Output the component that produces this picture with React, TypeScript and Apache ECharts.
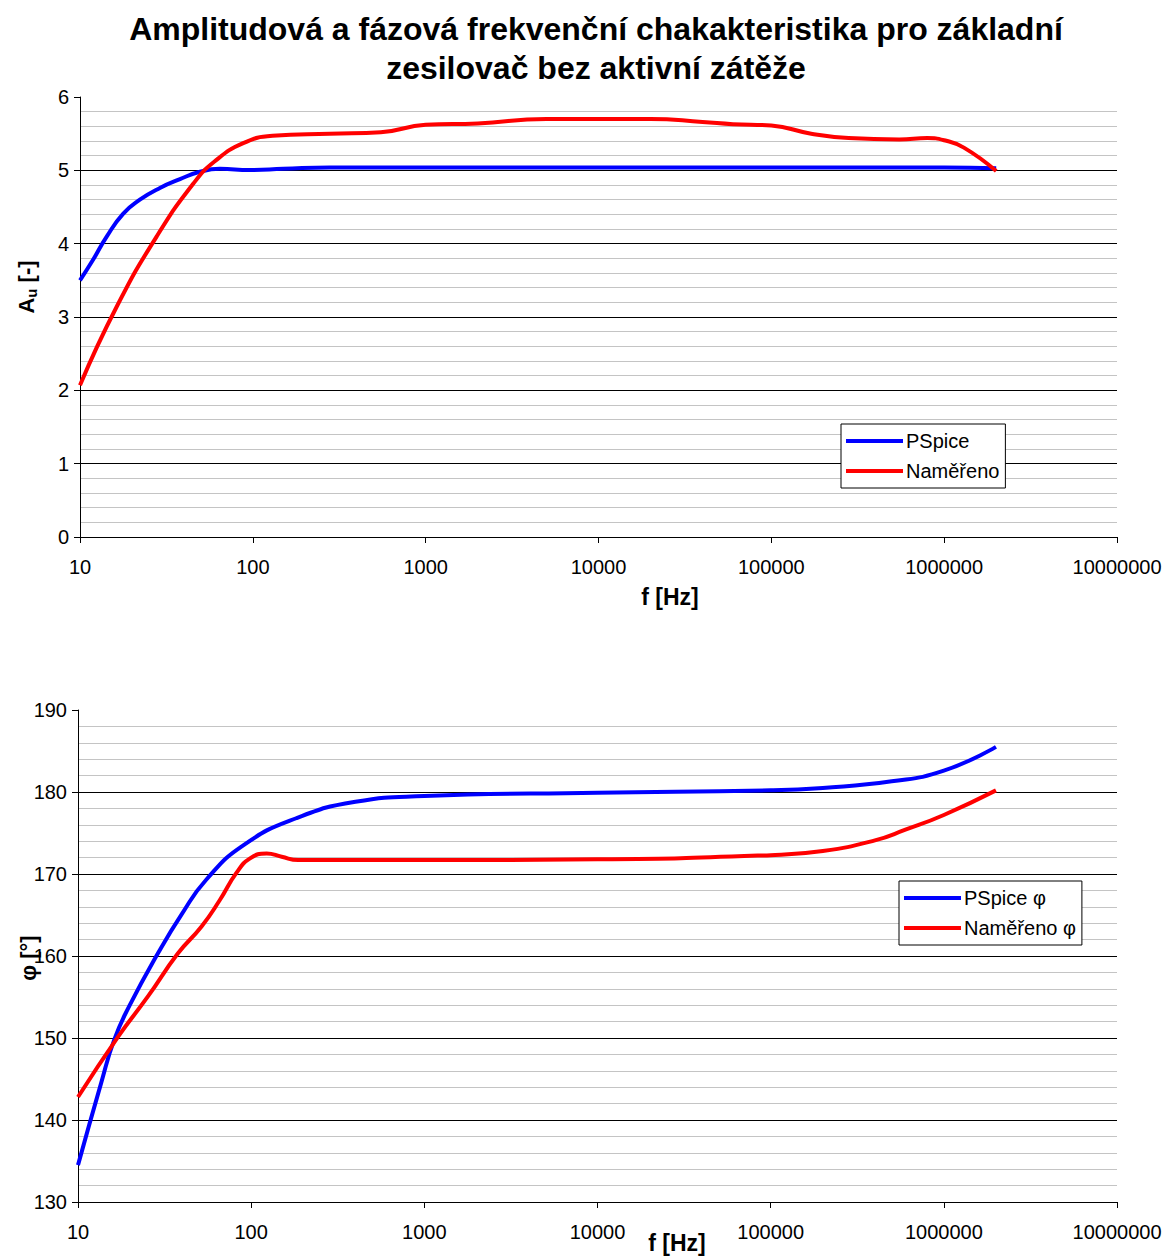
import React, { useEffect, useRef } from "react";
import * as echarts from "echarts";

const FONT = "'Liberation Sans', Arial, sans-serif";

const titleLines = [
  "Amplitudová a fázová frekvenční chakakteristika pro základní",
  "zesilovač bez aktivní zátěže",
];

const ampLegend = ["PSpice", "Naměřeno"];
const phaseLegend = ["PSpice φ", "Naměřeno φ"];

const ampPspice: [number, number][] = [
  [10, 3.5], [11.9, 3.78], [14.3, 4.1], [17.8, 4.41], [22.2, 4.6],
  [29, 4.76], [37.9, 4.88], [49.4, 4.98], [64.5, 5.02], [96, 5.005],
  [150, 5.02], [278, 5.04], [1000, 5.04], [10000, 5.04], [100000, 5.04],
  [1000000, 5.04], [2000000, 5.03],
];

const ampMeasured: [number, number][] = [
  [10, 2.07], [16.3, 3.14], [27.8, 4.1], [45.3, 4.82], [60, 5.12],
  [88, 5.37], [130, 5.47], [278, 5.5], [550, 5.52],
  [1000, 5.62], [2000, 5.64], [5000, 5.7], [10000, 5.7], [20000, 5.7],
  [40000, 5.66], [60000, 5.63], [100000, 5.61], [170000, 5.5],
  [280000, 5.44], [550000, 5.42], [800000, 5.44], [1000000, 5.41],
  [1300000, 5.31], [2000000, 4.99],
];

const phasePspice: [number, number][] = [
  [10, 134.5], [13.6, 144.5], [16.2, 149.8], [19.9, 154], [28.9, 160.3],
  [40, 165.2], [55, 169.3], [90, 173.5], [182, 176.8], [400, 178.8],
  [1000, 179.5], [10000, 179.9], [100000, 180.2], [200000, 180.5],
  [500000, 181.3], [1000000, 182.6], [2000000, 185.5],
];

const phaseMeasured: [number, number][] = [
  [10, 142.8], [17.1, 150.2], [25.4, 155.1], [37.7, 160.3], [51.7, 163.6],
  [65.8, 166.8], [82, 170.1], [98.5, 171.9], [123, 172.5], [150, 172.1],
  [187, 171.7], [363, 171.7], [1000, 171.7], [10000, 171.8],
  [100000, 172.3], [200000, 172.8], [400000, 174.1], [600000, 175.4],
  [1000000, 177.2], [2000000, 180.2],
];

const xMin = 10;
const xMax = 10000000;
const ampRange = { min: 0, max: 6, interval: 1 };
const phaseRange = { min: 130, max: 190, interval: 10 };

function xAxisCfg(gridIndex: number) {
  return {
    type: "log",
    logBase: 10,
    gridIndex,
    min: xMin,
    max: xMax,
    splitNumber: 6,
    axisLine: { show: true, lineStyle: { color: "#000", width: 1 } },
    axisTick: { show: true, inside: false, length: 6, lineStyle: { color: "#000" } },
    splitLine: { show: false },
    minorTick: { show: false },
    axisLabel: {
      fontSize: 20,
      color: "#000",
      fontFamily: FONT,
      margin: 20,
      formatter: (v: number) => String(Math.round(v)),
    },
  };
}

function yAxisCfg(gridIndex: number, r: { min: number; max: number; interval: number }) {
  const n = Math.round((r.max - r.min) / r.interval) + 1;
  const colors: string[] = [];
  for (let i = 0; i < n; i++) colors.push(i === n - 1 ? "rgba(0,0,0,0)" : "#000");
  return {
    type: "value",
    gridIndex,
    min: r.min,
    max: r.max,
    interval: r.interval,
    axisLine: { show: true, lineStyle: { color: "#000", width: 1 } },
    axisTick: { show: true, inside: false, length: 6, lineStyle: { color: "#000" } },
    splitLine: { show: true, lineStyle: { color: colors, width: 1 } },
    minorTick: { show: false, splitNumber: 5 },
    minorSplitLine: { show: true, lineStyle: { color: "#c4c4c4", width: 1 } },
    axisLabel: { fontSize: 20, color: "#000", fontFamily: FONT, margin: 11 },
  };
}

function lineSeries(name: string, data: [number, number][], color: string, idx: number) {
  return {
    type: "line",
    name,
    data,
    xAxisIndex: idx,
    yAxisIndex: idx,
    smooth: true,
    showSymbol: false,
    symbol: "none",
    color,
    lineStyle: { color, width: 4 },
    z: 3,
  };
}

function legendCfg(data: string[], left: number, top: number) {
  return {
    data,
    orient: "vertical",
    left,
    top,
    padding: [7, 6, 7, 5],
    itemWidth: 57,
    itemHeight: 4,
    itemGap: 10,
    icon: "rect",
    borderColor: "#000",
    borderWidth: 1,
    borderRadius: 0,
    backgroundColor: "#fff",
    textStyle: { fontSize: 20, color: "#000", fontFamily: FONT, padding: [0, 0, 0, -2] },
    selectedMode: false,
  };
}

export default function App() {
  const ref = useRef<HTMLDivElement>(null);
  useEffect(() => {
    document.body.style.margin = "0";
    const chart = echarts.init(ref.current!, null, { renderer: "svg" });
    const option: any = {
      animation: false,
      backgroundColor: "#fff",
      grid: [
        { left: 80, top: 97, width: 1037, height: 440 },
        { left: 78, top: 710, width: 1039, height: 492 },
      ],
      xAxis: [xAxisCfg(0), xAxisCfg(1)],
      yAxis: [yAxisCfg(0, ampRange), yAxisCfg(1, phaseRange)],
      legend: [legendCfg(ampLegend, 841, 424), legendCfg(phaseLegend, 899, 881)],
      series: [
        lineSeries(ampLegend[0], ampPspice, "#0000ff", 0),
        lineSeries(ampLegend[1], ampMeasured, "#ff0000", 0),
        lineSeries(phaseLegend[0], phasePspice, "#0000ff", 1),
        lineSeries(phaseLegend[1], phaseMeasured, "#ff0000", 1),
      ],
      graphic: [
        {
          type: "text",
          x: 596,
          y: 29,
          style: {
            text: titleLines[0],
            align: "center",
            verticalAlign: "middle",
            font: `bold 32px ${FONT}`,
            fill: "#000",
          },
        },
        {
          type: "text",
          x: 596,
          y: 68,
          style: {
            text: titleLines[1],
            align: "center",
            verticalAlign: "middle",
            font: `bold 32px ${FONT}`,
            fill: "#000",
          },
        },
        {
          type: "text",
          x: 670,
          y: 597,
          style: {
            text: "f [Hz]",
            align: "center",
            verticalAlign: "middle",
            font: `bold 23px ${FONT}`,
            fill: "#000",
          },
        },
        {
          type: "text",
          x: 677,
          y: 1243,
          style: {
            text: "f [Hz]",
            align: "center",
            verticalAlign: "middle",
            font: `bold 23px ${FONT}`,
            fill: "#000",
          },
        },
        {
          type: "text",
          x: 26,
          y: 287,
          rotation: Math.PI / 2,
          style: {
            text: "{a|A}{s|u}{a| [-]}",
            align: "center",
            verticalAlign: "middle",
            rich: {
              a: { fontSize: 22, fontWeight: "bold", fontFamily: FONT, fill: "#000", color: "#000", lineHeight: 26 },
              s: { fontSize: 15, fontWeight: "bold", fontFamily: FONT, fill: "#000", color: "#000", lineHeight: 26, verticalAlign: "bottom", padding: [8, 0, 0, 0] },
            },
          },
        },
        {
          type: "text",
          x: 28,
          y: 958,
          rotation: Math.PI / 2,
          style: {
            text: "φ [°]",
            align: "center",
            verticalAlign: "middle",
            font: `bold 22px ${FONT}`,
            fill: "#000",
          },
        },
      ],
    };
    chart.setOption(option);
    return () => chart.dispose();
  }, []);
  return <div ref={ref} style={{ width: 1168, height: 1256 }} />;
}
